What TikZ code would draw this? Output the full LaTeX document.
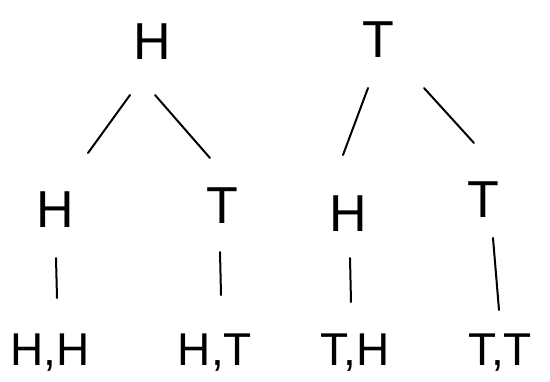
\documentclass[tikz,border=0pt]{standalone}
\usepackage{fontspec}
\setmainfont{Liberation Sans}
\begin{document}
\begin{tikzpicture}[x=1pt,y=-1pt,
  lbl/.style={inner sep=0pt,font=\fontsize{52}{52}\selectfont},
  small/.style={inner sep=0pt,font=\fontsize{46}{46}\selectfont},
  edge/.style={line width=2pt,line cap=round}]
\useasboundingbox[fill=white] (0,0) rectangle (550,381);
\node[lbl] (rH) at (152,42) {H};
\node[lbl] (rT) at (378,40) {T};
\node[lbl] (aH) at (55,210) {H};
\node[lbl] (aT) at (222,206) {T};
\node[lbl] (bH) at (348,214) {H};
\node[lbl] (bT) at (483,200) {T};
\node[small] (HH) at (50,353) {H,H};
\node[small] (HT) at (215,353) {H,T};
\node[small] (TH) at (355,353) {T,H};
\node[small] (TT) at (500,353) {T,T};
\coordinate (l1a) at (130,95); \coordinate (l1b) at (88,153);
\coordinate (l2a) at (155,95); \coordinate (l2b) at (210,158);
\coordinate (l3a) at (368,88); \coordinate (l3b) at (343,155);
\coordinate (l4a) at (424,88); \coordinate (l4b) at (474,143);
\coordinate (v1a) at (56,258); \coordinate (v1b) at (57,298);
\coordinate (v2a) at (220,252); \coordinate (v2b) at (221,295);
\coordinate (v3a) at (350,258); \coordinate (v3b) at (351,302);
\coordinate (v4a) at (493,238); \coordinate (v4b) at (499,310);
\foreach \p in {l1,l2,l3,l4,v1,v2,v3,v4} \draw[edge] (\p a) -- (\p b);
\end{tikzpicture}
\end{document}
